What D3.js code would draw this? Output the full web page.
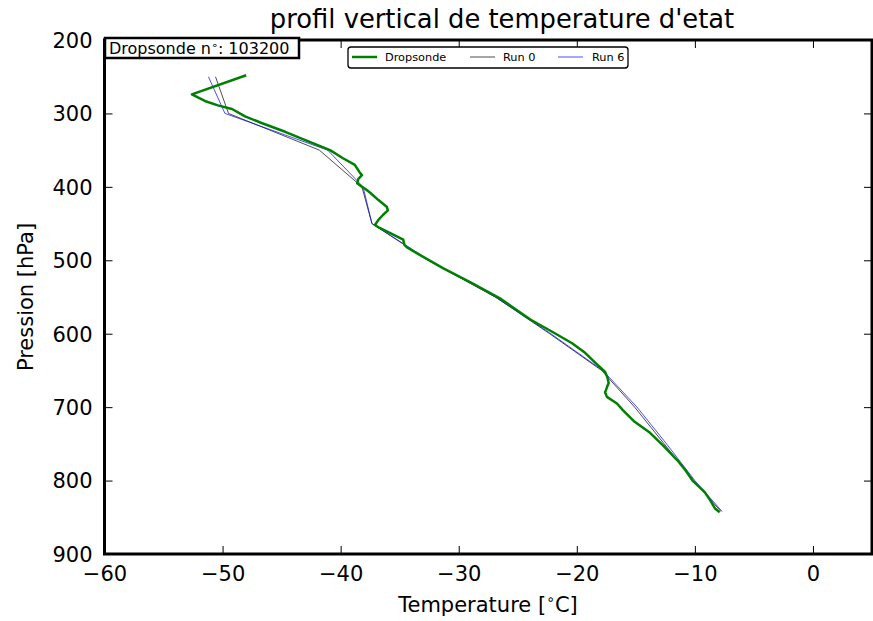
<!DOCTYPE html>
<html><head><meta charset="utf-8">
<script src="https://cdn.jsdelivr.net/npm/d3@7"></script>
<style>body{margin:0;background:#fff}svg{display:block;font-family:"DejaVu Sans",sans-serif}</style>
</head><body><svg id="c" width="873" height="621"></svg>
<script>
const xTicks = [-60,-50,-40,-30,-20,-10,0];
const yTicks = [200,300,400,500,600,700,800,900];
const dropT = [-48.0,-52.6,-51.5,-50.4,-49.2,-48.1,-46.7,-44.7,-43.2,-40.9,-39.8,-38.8,-38.4,-38.2,-38.5,-38.6,-38.2,-37.9,-37.5,-36.8,-36.1,-36.0,-36.4,-36.8,-37.1,-36.7,-35.8,-34.7,-34.6,-34.4,-33.7,-31.3,-29.0,-26.4,-23.9,-21.9,-20.4,-19.3,-18.4,-17.6,-17.4,-17.3,-17.45,-17.6,-17.45,-16.6,-16.1,-15.1,-13.8,-12.7,-11.5,-10.8,-10.2,-9.15,-8.7,-8.3,-7.9];
const dropP = [248,274,283,289,294,304,313,325,335,350,361,370,380,384,389,395,400,403,408,418,427,432,438,445,452,456,463,472,479,482,489,511,530,553,581,599,613,626,640,652,660,667,673,680,686,695,704,720,735,752,772,786,800,816,827,838,843];
const runP = [250,300,350,400,450,500,550,600,650,700,750,800,842];
const run0T = [-50.6,-49.5,-41.8,-38.2,-37.35,-32.6,-26.9,-22.3,-17.9,-15.1,-12.6,-10.1,-7.8];
const run6T = [-51.2,-49.8,-41.1,-38.1,-37.35,-32.5,-26.9,-22.2,-17.8,-14.9,-12.4,-10.0,-7.7];

const svg = d3.select("#c");
const L=104.5, R=872, T=40, B=554;
const x = d3.scaleLinear().domain([-60,5]).range([L,R]);
const y = d3.scaleLinear().domain([200,900]).range([T,B]);
const fmt = d => d<0 ? "\u2212"+Math.abs(d) : ""+d;

const g = svg.append("g");
svg.append("clipPath").attr("id","cl").append("rect").attr("x",L).attr("y",T).attr("width",R-L).attr("height",B-T);
const line = d3.line().x(d=>x(d[0])).y(d=>y(d[1]));
const plot = g.append("g").attr("clip-path","url(#cl)");
plot.append("path").datum(run0T.map((t,i)=>[t,runP[i]])).attr("d",line).attr("fill","none").attr("stroke","#000").attr("stroke-width",0.7);
plot.append("path").datum(run6T.map((t,i)=>[t,runP[i]])).attr("d",line).attr("fill","none").attr("stroke","#0000ff").attr("stroke-width",0.7);
plot.append("path").datum(dropT.map((t,i)=>[t,dropP[i]])).attr("d",line).attr("fill","none").attr("stroke","#008000").attr("stroke-width",2.5).attr("stroke-linejoin","round");

const ax = g.append("g").attr("transform",`translate(0,${B})`).call(d3.axisBottom(x).tickValues(xTicks).tickFormat(fmt).tickSizeInner(-8).tickSizeOuter(0).tickPadding(12));
const axT = g.append("g").attr("transform",`translate(0,${T})`).call(d3.axisTop(x).tickValues(xTicks).tickFormat("").tickSizeInner(-8).tickSizeOuter(0));
const ay = g.append("g").attr("transform",`translate(${L},0)`).call(d3.axisLeft(y).tickValues(yTicks).tickFormat(d=>d).tickSizeInner(-8).tickSizeOuter(0).tickPadding(12));
const ayR = g.append("g").attr("transform",`translate(${R},0)`).call(d3.axisRight(y).tickValues(yTicks).tickFormat("").tickSizeInner(-8).tickSizeOuter(0));
[ax,axT,ay,ayR].forEach(a=>{a.select(".domain").remove();a.selectAll("line").attr("stroke","#000").attr("stroke-width",1);});
[ax,ay].forEach(a=>a.selectAll("text").attr("font-size",21).attr("font-family","DejaVu Sans").attr("fill","#000"));
ay.selectAll("text").attr("dy","0.35em");

g.append("rect").attr("x",L).attr("y",T).attr("width",R-L).attr("height",B-T).attr("fill","none").attr("stroke","#000").attr("stroke-width",3);

svg.append("text").attr("x",502).attr("y",28).attr("text-anchor","middle").attr("font-size",25.8).text("profil vertical de temperature d'etat");
const xl = svg.append("text").attr("x",488).attr("y",612).attr("text-anchor","middle").attr("font-size",21);
xl.append("tspan").text("Temperature [");
xl.append("tspan").attr("font-size",14).attr("dy",-8).text("\u2218");
xl.append("tspan").attr("dy",8).text("C]");
svg.append("text").attr("transform","translate(33,297) rotate(-90)").attr("text-anchor","middle").attr("font-size",21).text("Pression [hPa]");

svg.append("rect").attr("x",105).attr("y",38).attr("width",194).attr("height",20).attr("fill","#fff").attr("stroke","#000").attr("stroke-width",2.5);
const bt = svg.append("text").attr("x",109).attr("y",53.5).attr("font-size",16);
bt.append("tspan").text("Dropsonde n");
bt.append("tspan").attr("font-size",11).attr("dy",-5).text("\u2218");
bt.append("tspan").attr("dy",5).text(": 103200");

svg.append("rect").attr("x",348).attr("y",47).attr("width",280).attr("height",21).attr("rx",3).attr("fill","#fff").attr("stroke","#000").attr("stroke-width",1.3);
const leg = [["Dropsonde","#008000",2.5,352,385],["Run 0","#000",0.7,470,503],["Run 6","#0000ff",0.7,558,592]];
leg.forEach(d=>{
  svg.append("line").attr("x1",d[3]).attr("x2",d[3]+25).attr("y1",57).attr("y2",57).attr("stroke",d[1]).attr("stroke-width",d[2]);
  svg.append("text").attr("x",d[4]).attr("y",61).attr("font-size",11.3).text(d[0]);
});
</script></body></html>
